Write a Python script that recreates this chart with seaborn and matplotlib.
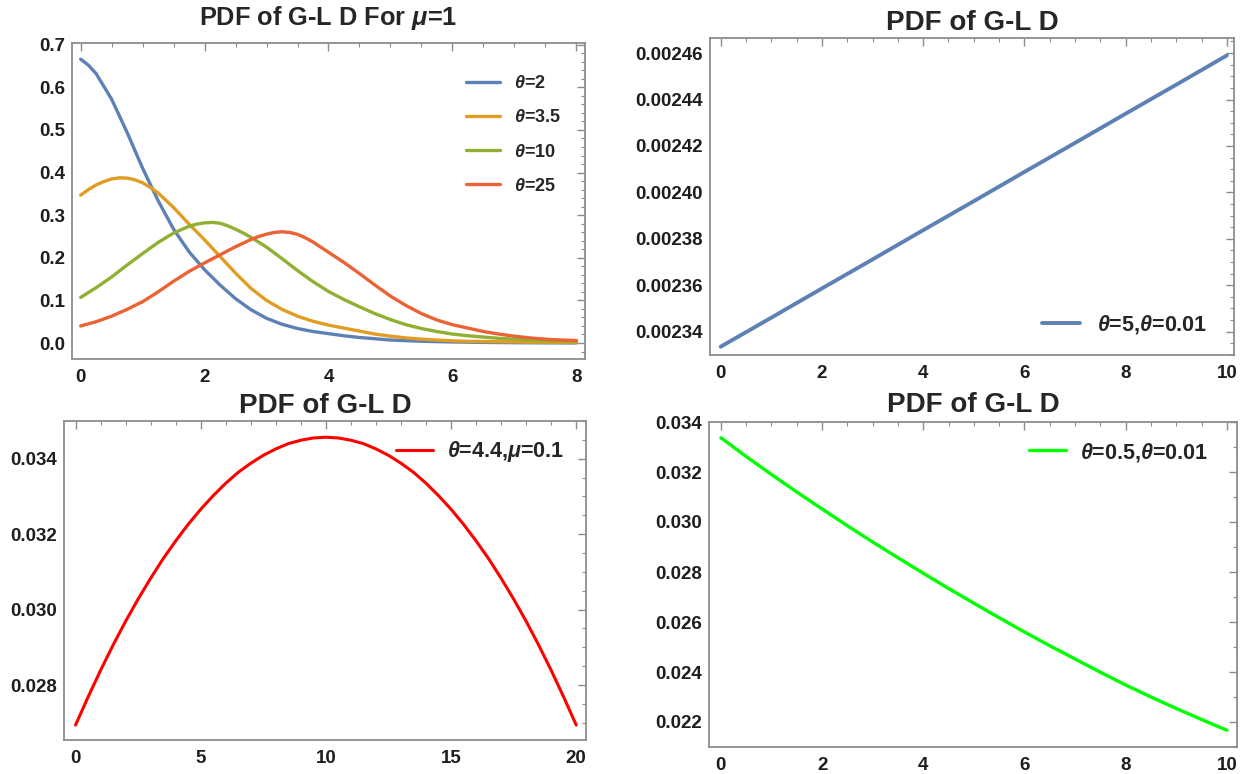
import numpy as np
import pandas as pd
import matplotlib
matplotlib.use("Agg")
import matplotlib.pyplot as plt
import seaborn as sns
from matplotlib.ticker import MultipleLocator, FormatStrFormatter

# ---------------- data ----------------
x_theta2 = [0, 0.125, 0.25, 0.5, 0.75, 1, 1.25, 1.5, 1.75, 2, 2.25, 2.5, 2.75, 3,
            3.25, 3.5, 3.75, 4, 4.25, 4.5, 4.75, 5, 5.25, 5.5, 5.75, 6, 6.25,
            6.5, 6.75, 7, 7.25, 7.5, 7.75, 8]
theta2 = [0.666, 0.652, 0.632, 0.572, 0.494, 0.410, 0.334, 0.267, 0.214, 0.172,
          0.136, 0.104, 0.078, 0.058, 0.044, 0.034, 0.027, 0.022, 0.017, 0.013,
          0.010, 0.007, 0.0055, 0.0042, 0.0032, 0.0025, 0.0020, 0.0015, 0.0011,
          0.0008, 0.0006, 0.0004, 0.0003, 0.0002]

x_theta35 = [0, 0.125, 0.25, 0.375, 0.5, 0.625, 0.75, 0.875, 1, 1.125, 1.25, 1.5,
             1.75, 2, 2.25, 2.5, 2.75, 3, 3.25, 3.5, 3.75, 4, 4.25, 4.5, 4.75,
             5, 5.25, 5.5, 5.75, 6, 6.25, 6.5, 6.75, 7, 7.25, 7.5, 7.75, 8]
theta35 = [0.347, 0.360, 0.371, 0.379, 0.385, 0.3875, 0.387, 0.383, 0.376, 0.365,
           0.352, 0.318, 0.279, 0.242, 0.203, 0.164, 0.128, 0.100, 0.079, 0.063,
           0.051, 0.042, 0.035, 0.028, 0.021, 0.016, 0.012, 0.009, 0.007, 0.005,
           0.004, 0.0035, 0.003, 0.0025, 0.002, 0.0018, 0.0015, 0.0012]

x_theta10 = [0, 0.25, 0.5, 0.75, 1, 1.25, 1.5, 1.75, 1.875, 2, 2.125, 2.25, 2.375,
             2.5, 2.625, 2.75, 3, 3.25, 3.5, 3.75, 4, 4.25, 4.5, 4.75, 5, 5.25,
             5.5, 5.75, 6, 6.25, 6.5, 6.75, 7, 7.25, 7.5, 7.75, 8]
theta10 = [0.107, 0.130, 0.155, 0.183, 0.210, 0.236, 0.258, 0.274, 0.279, 0.2820,
           0.2830, 0.2810, 0.275, 0.267, 0.258, 0.248, 0.225, 0.198, 0.170, 0.144,
           0.121, 0.102, 0.085, 0.069, 0.055, 0.043, 0.034, 0.027, 0.021, 0.017,
           0.014, 0.011, 0.009, 0.007, 0.005, 0.004, 0.003]

x_theta25 = [0, 0.25, 0.5, 0.75, 1, 1.25, 1.5, 1.75, 2, 2.25, 2.5, 2.75, 2.875, 3,
             3.125, 3.25, 3.375, 3.5, 3.625, 3.75, 4, 4.25, 4.5, 4.75, 5, 5.25,
             5.5, 5.75, 6, 6.25, 6.5, 6.75, 7, 7.25, 7.5, 7.75, 8]
theta25 = [0.040, 0.050, 0.063, 0.079, 0.097, 0.120, 0.145, 0.168, 0.188, 0.207,
           0.226, 0.243, 0.250, 0.2555, 0.2595, 0.2610, 0.2595, 0.2550, 0.2470,
           0.237, 0.213, 0.189, 0.163, 0.136, 0.110, 0.088, 0.069, 0.054, 0.043,
           0.035, 0.027, 0.021, 0.016, 0.012, 0.009, 0.007, 0.006]

labels_tl = [r"$\theta$=2", r"$\theta$=3.5", r"$\theta$=10", r"$\theta$=25"]
colors_tl = ["#5E81B5", "#E19C24", "#8FB032", "#EB6235"]

x_tr = [0, 1, 2, 3, 4, 5, 6, 7, 8, 9, 10]
y_tr = [0.0023335, 0.0023460, 0.0023586, 0.0023711, 0.0023837, 0.0023962,
        0.0024088, 0.0024213, 0.0024339, 0.0024464, 0.0024590]
label_tr = r"$\theta$=5,$\theta$=0.01"

x_bl = [0, 0.5, 1, 1.5, 2, 2.5, 3, 3.5, 4, 4.5, 5, 5.5, 6, 6.5, 7, 7.5, 8, 8.5,
        9, 9.5, 10, 10.5, 11, 11.5, 12, 12.5, 13, 13.5, 14, 14.5, 15, 15.5, 16,
        16.5, 17, 17.5, 18, 18.5, 19, 19.5, 20]
y_bl = [0.02694, 0.02768, 0.02839, 0.02906, 0.02969, 0.03028, 0.03083, 0.03135,
        0.03182, 0.03226, 0.03266, 0.03302, 0.03335, 0.03364, 0.03388, 0.03409,
        0.03426, 0.03440, 0.03449, 0.03455, 0.03457, 0.03455, 0.03449, 0.03440,
        0.03426, 0.03409, 0.03388, 0.03364, 0.03335, 0.03302, 0.03266, 0.03226,
        0.03182, 0.03135, 0.03083, 0.03028, 0.02969, 0.02906, 0.02839, 0.02768,
        0.02694]
label_bl = r"$\theta$=4.4,$\mu$=0.1"

x_br = [0, 0.5, 1, 1.5, 2, 2.5, 3, 3.5, 4, 4.5, 5, 5.5, 6, 6.5, 7, 7.5, 8, 8.5,
        9, 9.5, 10]
y_br = [0.03337, 0.03262, 0.03190, 0.03120, 0.03052, 0.02985, 0.02920, 0.02857,
        0.02795, 0.02734, 0.02675, 0.02617, 0.02560, 0.02505, 0.02452, 0.02399,
        0.02348, 0.02300, 0.02254, 0.02210, 0.02167]
label_br = r"$\theta$=0.5,$\theta$=0.01"

title_tl = r"PDF of G-L D For $\mu$=1"
title_other = "PDF of G-L D"

# ---------------- style ----------------
sns.set_theme(style="white")
plt.rcParams["font.family"] = ["Liberation Sans", "DejaVu Sans"]
plt.rcParams["font.weight"] = "bold"
plt.rcParams["mathtext.fontset"] = "custom"
plt.rcParams["mathtext.it"] = "Liberation Sans:italic:bold"
plt.rcParams["mathtext.rm"] = "Liberation Sans:bold"
plt.rcParams["mathtext.bf"] = "Liberation Sans:bold"
plt.rcParams["lines.solid_capstyle"] = "round"
plt.rcParams["lines.solid_joinstyle"] = "round"

W, H = 1240, 774
fig = plt.figure(figsize=(W / 100, H / 100), dpi=100)


def px_axes(l, r, t, b):
    return fig.add_axes([l / W, 1 - b / H, (r - l) / W, (b - t) / H])


def style(ax, xmaj, xmin, ymaj, ymin, yfmt):
    for s in ax.spines.values():
        s.set_visible(True)
        s.set_color("#8c8c8c")
        s.set_linewidth(1.3)
    ax.xaxis.set_major_locator(MultipleLocator(xmaj))
    ax.xaxis.set_minor_locator(MultipleLocator(xmin))
    ax.yaxis.set_major_locator(MultipleLocator(ymaj))
    ax.yaxis.set_minor_locator(MultipleLocator(ymin))
    ax.yaxis.set_major_formatter(FormatStrFormatter(yfmt))
    ax.xaxis.set_major_formatter(FormatStrFormatter("%d"))
    ax.tick_params(which="both", direction="in", top=True, right=True,
                   colors="#8c8c8c", labelcolor="#1e1e1e", labelsize=13.5)
    ax.tick_params(which="major", length=6, width=1.0)
    ax.tick_params(which="minor", length=3, width=0.8)
    ax.tick_params(axis="x", which="major", pad=7)
    ax.tick_params(axis="y", which="major", pad=5)
    ax.set_xlabel("")
    ax.set_ylabel("")


def one_legend(ax, label, fx, fy, fs, hl, htp):
    ax.legend(ax.get_lines(), [label], loc="center left",
              bbox_to_anchor=(fx / W, 1 - fy / H), bbox_transform=fig.transFigure,
              frameon=False, fontsize=fs, handlelength=hl, handletextpad=htp,
              borderpad=0, borderaxespad=0)


# ---- top left ----
ax1 = px_axes(72, 585, 43, 359)
xs_tl = [x_theta2, x_theta35, x_theta10, x_theta25]
ys_tl = [theta2, theta35, theta10, theta25]
df_tl = pd.concat([pd.DataFrame({"x": xs, "y": ys, "s": lab})
                   for xs, ys, lab in zip(xs_tl, ys_tl, labels_tl)], ignore_index=True)
sns.lineplot(data=df_tl, x="x", y="y", hue="s", hue_order=labels_tl,
             palette=colors_tl, estimator=None, linewidth=2.4, legend=False, ax=ax1)
ax1.set_xlim(-0.14, 8.14)
ax1.set_ylim(-0.0375, 0.704)
style(ax1, 2, 0.5, 0.1, 0.02, "%.1f")
ax1.set_title(title_tl, fontsize=18.3, fontweight="bold", pad=13)
ax1.legend(ax1.get_lines(), labels_tl, loc="center left",
           bbox_to_anchor=(466 / W, 1 - 135 / H), bbox_transform=fig.transFigure,
           frameon=False, fontsize=13, handlelength=1.9, handletextpad=0.75,
           labelspacing=0.95, borderpad=0, borderaxespad=0)

# ---- top right ----
ax2 = px_axes(710, 1234, 38, 355)
sns.lineplot(x=x_tr, y=y_tr, color="#5E81B5", linewidth=2.8, estimator=None, ax=ax2)
ax2.set_xlim(-0.21, 10.14)
ax2.set_ylim(0.00232993, 0.0024665)
style(ax2, 2, 0.5, 0.00002, 0.000005, "%.5f")
ax2.set_title(title_other, fontsize=20, fontweight="bold", pad=6)
one_legend(ax2, label_tr, 1042, 325, 15.5, 1.75, 0.8)

# ---- bottom left ----
ax3 = px_axes(64, 586, 421, 740)
sns.lineplot(x=x_bl, y=y_bl, color="#FF0000", linewidth=2.2, estimator=None, ax=ax3)
ax3.set_xlim(-0.46, 20.39)
ax3.set_ylim(0.026544, 0.035)
style(ax3, 5, 1, 0.002, 0.0005, "%.3f")
ax3.set_title(title_other, fontsize=20, fontweight="bold", pad=6)
one_legend(ax3, label_bl, 396, 452, 15.5, 1.72, 0.65)

# ---- bottom right ----
ax4 = px_axes(709, 1237, 422, 747)
sns.lineplot(x=x_br, y=y_br, color="#00FF00", linewidth=2.4, estimator=None, ax=ax4)
ax4.set_xlim(-0.235, 10.2)
ax4.set_ylim(0.021, 0.034)
style(ax4, 2, 0.5, 0.002, 0.001, "%.3f")
ax4.set_title(title_other, fontsize=20, fontweight="bold", pad=7)
one_legend(ax4, label_br, 1029, 452, 15.5, 1.72, 0.65)

fig.savefig("out.png", dpi=100, facecolor="white")
